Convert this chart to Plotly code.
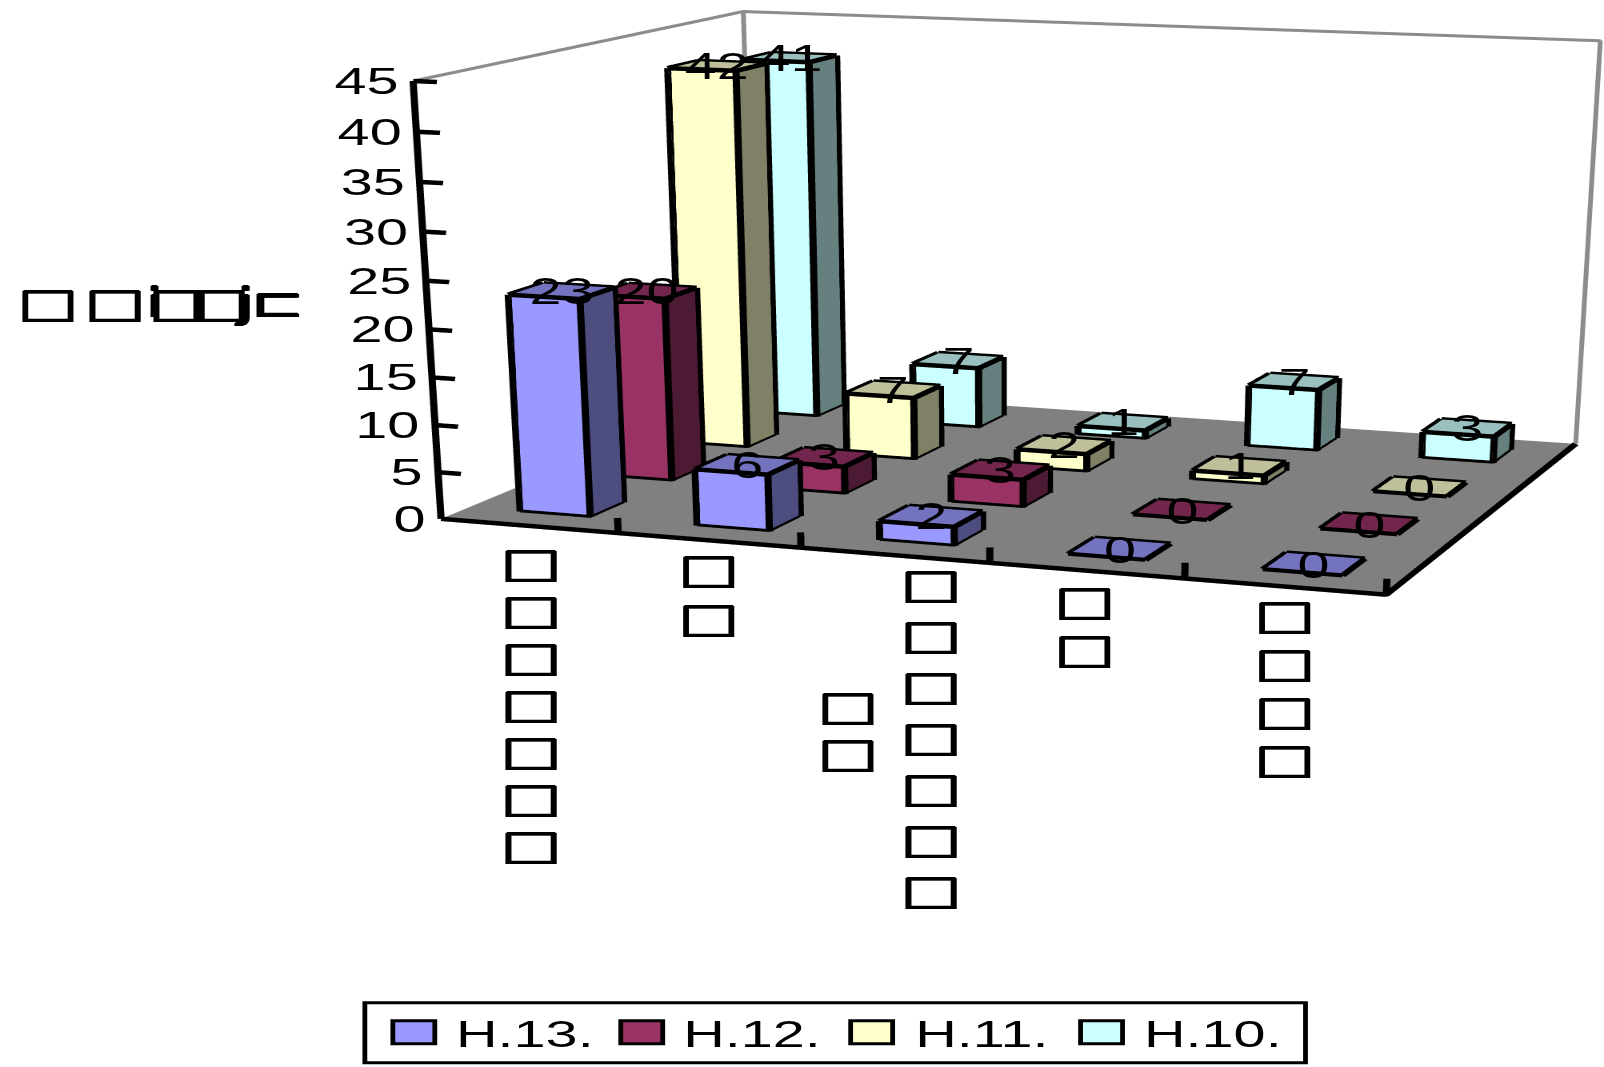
import plotly.graph_objects as go

series_names = ["H.13.", "H.12.", "H.11.", "H.10."]
categories = ["□□□□□□□", "□□", "□□□□□□□□□", "□□", "□□□□"]
h13 = [23, 6, 2, 0, 0]
h12 = [20, 3, 3, 0, 0]
h11 = [42, 7, 2, 1, 0]
h10 = [41, 7, 1, 7, 3]
series_values = [h13, h12, h11, h10]
front_colors = ["#9999FF", "#993366", "#FFFFCC", "#CCFFFF"]
top_colors = ["#7373BF", "#73264D", "#BFBF99", "#99BFBF"]
side_colors = ["#4D4D80", "#4D1A33", "#808066", "#668080"]
z_ticks = [0, 5, 10, 15, 20, 25, 30, 35, 40, 45]
y_title_parts = ["□", "□", "i", "□", "□", "j", "⊏"]
y_title_px = [15, 81, 143, 146, 186, 232, 248]

W, H = 1604, 1067
n_cat, n_ser = len(categories), len(series_names)
zmax = z_ticks[-1]

# The reference picture is a perspective view stretched sideways: camera, stretch and page offset
eye = (2.0002, -5.5050, 1.4613)
cen = (-0.0140, -0.0247, -0.1919)
aspect = (1.3816, 1.1016, 1.0)
sx = 1.6
cx, cy, Hf = 1018.8, 356.7, 2160.3
Wf = 2*max(cx, W-cx)/sx
tx = cx - sx*Wf/2
ty = cy - Hf/2
PX = lambda v: ((v-tx)/sx)/Wf
PY = lambda v: 1-(v-ty)/Hf

bw = 0.2
inset = 0.006
LW = 9
fig = go.Figure()
edge_x, edge_y, edge_z = [], [], []
for s, vals in enumerate(series_values):
    X, Y, Z, I, J, K, FC = [], [], [], [], [], [], []
    for c, v in enumerate(vals):
        x0, x1 = c+0.5-bw, c+0.5+bw
        y0, y1 = s+0.5-bw, s+0.5+bw
        z1 = max(v, 0.12)
        e = inset
        b = len(X)
        for (a_, b_, c_) in [(x0+e,y0+e,0),(x1-e,y0+e,0),(x1-e,y1-e,0),(x0+e,y1-e,0),
                             (x0+e,y0+e,z1),(x1-e,y0+e,z1),(x1-e,y1-e,z1),(x0+e,y1-e,z1)]:
            X.append(a_); Y.append(b_); Z.append(c_)
        faces = [((0,1,5),front_colors[s]),((0,5,4),front_colors[s]),
                 ((1,2,6),side_colors[s]),((1,6,5),side_colors[s]),
                 ((4,5,6),top_colors[s]),((4,6,7),top_colors[s]),
                 ((3,0,4),side_colors[s]),((3,4,7),side_colors[s])]
        for (tri, col) in faces:
            I.append(b+tri[0]); J.append(b+tri[1]); K.append(b+tri[2]); FC.append(col)
        outline = [(x0,y0,z1),(x1,y0,z1),(x1,y1,z1),(x0,y1,z1)]
        base = [(x0,y0,0),(x1,y0,0),(x1,y1,0),(x0,y1,0)]
        segs = [(outline[i], outline[(i+1) % 4]) for i in range(4)]
        if v > 0:
            segs += [(base[i], base[(i+1) % 4]) for i in range(4)]
            segs += [(base[i], outline[i]) for i in range(4)]
        for p, q in segs:
            edge_x += [p[0], q[0], None]
            edge_y += [p[1], q[1], None]
            edge_z += [p[2], q[2], None]
    fig.add_trace(go.Mesh3d(x=X, y=Y, z=Z, i=I, j=J, k=K, facecolor=FC, flatshading=True, name=series_names[s],
                            lighting=dict(ambient=1, diffuse=0, specular=0, fresnel=0, roughness=1), hoverinfo="skip"))
fig.add_trace(go.Scatter3d(x=edge_x, y=edge_y, z=edge_z, mode="lines", line=dict(color="black", width=LW), hoverinfo="skip", showlegend=False))

ax_x = [0, 0, None, 0, n_cat, n_cat]
ax_y = [0, 0, None, 0, 0, n_ser]
ax_z = [0, zmax, None, 0, 0, 0]
for t in z_ticks:
    ax_x += [None, 0, 0.13]; ax_y += [None, 0, 0]; ax_z += [None, t, t]
for c in range(1, n_cat+1):
    ax_x += [None, c, c]; ax_y += [None, 0, 0]; ax_z += [None, 0, 1.6]
fig.add_trace(go.Scatter3d(x=ax_x, y=ax_y, z=ax_z, mode="lines", line=dict(color="black", width=LW), hoverinfo="skip", showlegend=False))
gx = [0, 0, n_cat, n_cat, None, 0, 0]
gy = [0, n_ser, n_ser, n_ser, None, n_ser, n_ser]
gz = [zmax, zmax, zmax, 0, None, zmax, 0]
fig.add_trace(go.Scatter3d(x=gx, y=gy, z=gz, mode="lines", line=dict(color="#8C8C8C", width=6), hoverinfo="skip", showlegend=False))

FF = "Liberation Sans"
num_font = dict(family=FF, size=36, color="black")
box_font = dict(family="DejaVu Sans", size=40, color="black",
                shadow="1px 0 0 black, -1px 0 0 black, 0 1px 0 black, 0 -1px 0 black")
annots = []
for s, vals in enumerate(series_values):
    for c, v in enumerate(vals):
        annots.append(dict(x=c+0.5, y=s+0.5, z=v, text=str(v), showarrow=False, font=num_font))
for t in z_ticks:
    annots.append(dict(x=0, y=0, z=t, text=str(t), showarrow=False, font=num_font, xanchor="right", xshift=-12/sx))
# (category, slice start, slice end, x shift, first-row gap, row spacing)
label_columns = [(0,0,7,2,12,47),(1,0,2,0,3,49),(2,0,7,37,3,51),(2,7,9,-46,125,47),(3,0,2,-2,5,48),(4,0,4,0,3,48)]
for c, a_, b_, dx, gap, step_ in label_columns:
    for row, ch in enumerate(categories[c][a_:b_]):
        annots.append(dict(x=c+0.5, y=0, z=0, text=ch, showarrow=False, font=box_font, yanchor="top", xshift=dx/sx, yshift=-(gap+row*step_)))

paper = []
for part, px in zip(y_title_parts, y_title_px):
    paper.append(dict(xref="paper", yref="paper", x=PX(px), y=PY(303), xanchor="left", yanchor="middle", text=part, showarrow=False, font=box_font))
shapes = [dict(type="rect", xref="paper", yref="paper", x0=PX(365), x1=PX(1306), y0=PY(1063), y1=PY(1003), line=dict(color="black", width=3), fillcolor="white")]
legend_swatch_x = [393, 621, 851, 1081]
legend_text_x = [453, 681, 912, 1141]
for i, n in enumerate(series_names):
    shapes.append(dict(type="rect", xref="paper", yref="paper", x0=PX(legend_swatch_x[i]), x1=PX(legend_swatch_x[i]+42), y0=PY(1044), y1=PY(1021), line=dict(color="black", width=3), fillcolor=front_colors[i]))
    paper.append(dict(xref="paper", yref="paper", x=PX(legend_text_x[i]), y=PY(1034), xanchor="left", yanchor="middle", text=n, showarrow=False, font=dict(family=FF, size=36, color="black")))

def axis(**kw):
    return dict(showgrid=False, zeroline=False, showspikes=False, title="", showline=False, ticks="", showticklabels=False, **kw)

fig.update_layout(
    width=Wf, height=Hf, margin=dict(l=0, r=0, t=0, b=0), paper_bgcolor="white", showlegend=False,
    annotations=paper, shapes=shapes,
    scene=dict(
        domain=dict(x=[0,1], y=[0,1]),
        xaxis=axis(range=[0,n_cat], tickvals=list(range(1,n_cat+1)), showbackground=False),
        yaxis=axis(range=[0,n_ser], tickvals=[], showbackground=False),
        zaxis=axis(range=[0,zmax], tickvals=z_ticks, showbackground=True, backgroundcolor="#808080"),
        aspectmode="manual", aspectratio=dict(x=aspect[0], y=aspect[1], z=aspect[2]),
        camera=dict(eye=dict(x=eye[0], y=eye[1], z=eye[2]), center=dict(x=cen[0], y=cen[1], z=cen[2]), up=dict(x=0,y=0,z=1), projection=dict(type="perspective")),
        annotations=annots,
    ),
)
post = ("document.documentElement.style.overflow='hidden';document.body.style.margin='0';document.body.style.overflow='hidden';"
        "var d=document.getElementById('{plot_id}');d.style.transformOrigin='0 0';d.style.transform='translate(%.2fpx,%.2fpx) scaleX(%.5f)';" % (tx, ty, sx))
fig.write_html("out.html", post_script=post, config=dict(displayModeBar=False))
